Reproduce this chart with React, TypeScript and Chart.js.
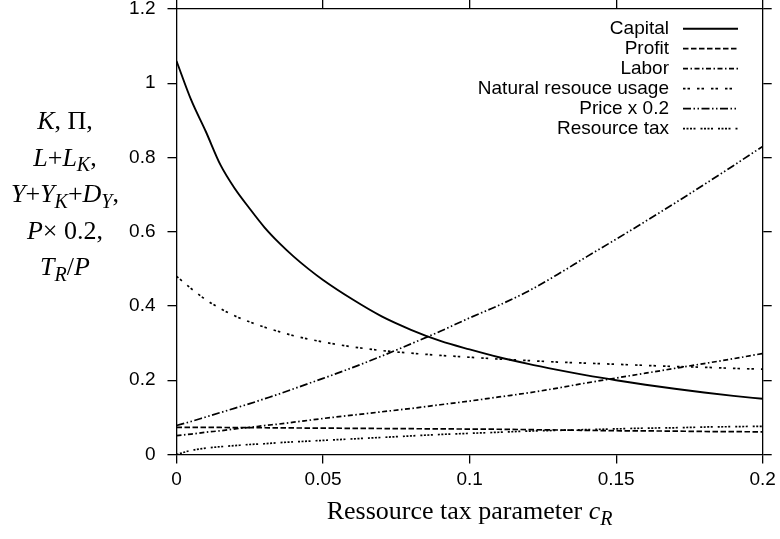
import React, { useEffect, useRef } from "react";
import { Chart, registerables } from "chart.js";

Chart.register(...registerables);

// ---- data ----
const taxParam = [0, 0.005, 0.01, 0.015, 0.02, 0.025, 0.03, 0.035, 0.04, 0.045, 0.05, 0.06, 0.07, 0.08, 0.09, 0.1, 0.11, 0.12, 0.13, 0.14, 0.15, 0.16, 0.17, 0.18, 0.19, 0.2];
const capital = [1.06, 0.955, 0.87, 0.78, 0.715, 0.662, 0.612, 0.57, 0.533, 0.5, 0.47, 0.418, 0.372, 0.336, 0.306, 0.283, 0.262, 0.244, 0.228, 0.213, 0.2, 0.188, 0.177, 0.167, 0.158, 0.15];
const profit = [0.073, 0.073, 0.073, 0.0728, 0.0725, 0.0722, 0.072, 0.0718, 0.0715, 0.0712, 0.071, 0.0705, 0.07, 0.0695, 0.069, 0.0685, 0.068, 0.067, 0.066, 0.065, 0.064, 0.0635, 0.063, 0.062, 0.0615, 0.061];
const labor = [0.051, 0.055, 0.06, 0.064, 0.069, 0.073, 0.078, 0.082, 0.087, 0.092, 0.097, 0.106, 0.115, 0.124, 0.134, 0.144, 0.155, 0.166, 0.179, 0.193, 0.206, 0.219, 0.232, 0.245, 0.258, 0.272];
const naturalResource = [0.48, 0.447, 0.417, 0.393, 0.373, 0.357, 0.343, 0.331, 0.32, 0.311, 0.303, 0.29, 0.28, 0.273, 0.267, 0.262, 0.257, 0.253, 0.249, 0.246, 0.243, 0.24, 0.237, 0.235, 0.232, 0.23];
const priceScaled = [0.078, 0.089, 0.101, 0.113, 0.125, 0.137, 0.15, 0.163, 0.177, 0.191, 0.205, 0.234, 0.265, 0.298, 0.332, 0.368, 0.402, 0.44, 0.485, 0.533, 0.58, 0.628, 0.677, 0.727, 0.778, 0.83];
const resourceTax = [0, 0.011, 0.017, 0.021, 0.024, 0.027, 0.029, 0.032, 0.034, 0.036, 0.038, 0.042, 0.046, 0.05, 0.054, 0.057, 0.06, 0.063, 0.065, 0.067, 0.069, 0.071, 0.072, 0.074, 0.075, 0.076];

const seriesNames = ["Capital", "Profit", "Labor", "Natural resouce usage", "Price x 0.2", "Resource tax"];
const seriesValues = [capital, profit, labor, naturalResource, priceScaled, resourceTax];
const seriesDashes: number[][] = [
  [],
  [5.5, 2.5],
  [5, 2.5, 1.5, 2.5],
  [2.5, 2, 2.5, 7],
  [8, 2.5, 1.5, 2.5, 1.5, 2.5],
  [2, 1.5, 2, 1.5, 2, 1.5, 2, 5],
];

const xTickValues = [0, 0.05, 0.1, 0.15, 0.2];
const xTickLabels = ["0", "0.05", "0.1", "0.15", "0.2"];
const yTickValues = [0, 0.2, 0.4, 0.6, 0.8, 1, 1.2];
const yTickLabels = ["0", "0.2", "0.4", "0.6", "0.8", "1", "1.2"];

type Seg = { t: string; it?: boolean; sub?: boolean };
const xTitle: Seg[] = [{ t: "Ressource tax parameter " }, { t: "c", it: true }, { t: "R", it: true, sub: true }];
const yTitleLines: Seg[][] = [
  [{ t: "K", it: true }, { t: ", Π," }],
  [{ t: "L", it: true }, { t: "+" }, { t: "L", it: true }, { t: "K", it: true, sub: true }, { t: "," }],
  [{ t: "Y", it: true }, { t: "+" }, { t: "Y", it: true }, { t: "K", it: true, sub: true }, { t: "+" }, { t: "D", it: true }, { t: "Y", it: true, sub: true }, { t: "," }],
  [{ t: "P", it: true }, { t: "× 0.2," }],
  [{ t: "T", it: true }, { t: "R", it: true, sub: true }, { t: "/" }, { t: "P", it: true }],
];

const SANS = '"Liberation Sans", Arial, sans-serif';
const SERIF = '"Liberation Serif", "Times New Roman", serif';

function segFont(s: Seg, size: number) {
  const sz = s.sub ? Math.round(size * 0.75) : size;
  return `${s.it ? "italic " : ""}${sz}px ${SERIF}`;
}

function drawRich(ctx: CanvasRenderingContext2D, segs: Seg[], cx: number, cy: number, size: number) {
  let total = 0;
  const widths = segs.map((s) => {
    ctx.font = segFont(s, size);
    const w = ctx.measureText(s.t).width;
    total += w;
    return w;
  });
  let x = cx - total / 2;
  segs.forEach((s, i) => {
    ctx.font = segFont(s, size);
    ctx.fillText(s.t, x, cy + (s.sub ? size * 0.22 : 0));
    x += widths[i];
  });
}

const annotationPlugin = {
  id: "annotations",
  afterDraw(chart: any) {
    const ctx: CanvasRenderingContext2D = chart.ctx;
    const area = chart.chartArea;
    ctx.save();
    ctx.fillStyle = "#000";
    ctx.textBaseline = "alphabetic";
    ctx.textAlign = "left";
    // x title
    drawRich(ctx, xTitle, (area.left + area.right) / 2, 519, 26);
    // y title
    yTitleLines.forEach((line, i) => {
      drawRich(ctx, line, 65, 129 + i * 36.5, 26);
    });
    // legend
    chart.data.datasets.forEach((ds: any, i: number) => {
      const y = 28.7 + i * 20;
      ctx.font = `19px ${SANS}`;
      ctx.textAlign = "right";
      ctx.textBaseline = "middle";
      ctx.fillStyle = "#000";
      ctx.fillText(ds.label, 669, y);
      ctx.beginPath();
      ctx.setLineDash(ds.borderDash || []);
      ctx.lineWidth = ds.borderWidth;
      ctx.strokeStyle = "#000";
      ctx.moveTo(683, y);
      ctx.lineTo(738, y);
      ctx.stroke();
    });
    ctx.restore();
  },
};

const baseGrid = { display: true, drawOnChartArea: false, drawTicks: true, tickLength: 9, color: "#000", lineWidth: 1.3 };
const baseBorder = { display: true, color: "#000", width: 1.3 };

function fixX(h: number) {
  return (s: any) => { s.height = h; s.paddingLeft = 0; s.paddingRight = 0; s.paddingTop = 0; s.paddingBottom = 0; };
}
function fixY(w: number) {
  return (s: any) => { s.width = w; s.paddingLeft = 0; s.paddingRight = 0; s.paddingTop = 0; s.paddingBottom = 0; };
}

export default function App() {
  const ref = useRef<HTMLCanvasElement | null>(null);
  useEffect(() => {
    if (!ref.current) return;
    const datasets = seriesNames.map((name, i) => ({
      label: name,
      data: taxParam.map((x, j) => ({ x, y: seriesValues[i][j] })),
      borderColor: "#000",
      backgroundColor: "#000",
      borderWidth: i === 0 ? 1.9 : 1.7,
      borderDash: seriesDashes[i],
      pointRadius: 0,
      fill: false,
      cubicInterpolationMode: "monotone" as const,
    }));
    const chart = new Chart(ref.current, {
      type: "line",
      data: { datasets },
      plugins: [annotationPlugin],
      options: {
        animation: false,
        responsive: false,
        devicePixelRatio: 1,
        layout: { padding: 0 },
        plugins: { legend: { display: false }, tooltip: { enabled: false } },
        scales: {
          x: {
            type: "linear",
            position: "bottom",
            min: 0,
            max: 0.2,
            afterBuildTicks: (s: any) => { s.ticks = xTickValues.map((v) => ({ value: v })); },
            afterFit: fixX(539 - 454.5),
            ticks: { callback: (_v: any, i: number) => xTickLabels[i], font: { family: SANS, size: 19 }, color: "#000", padding: 5, maxRotation: 0 },
            grid: baseGrid,
            border: baseBorder,
          },
          x2: {
            type: "linear",
            position: "top",
            min: 0,
            max: 0.2,
            afterBuildTicks: (s: any) => { s.ticks = xTickValues.map((v) => ({ value: v })); },
            afterFit: fixX(9),
            ticks: { display: false },
            grid: baseGrid,
            border: baseBorder,
          },
          y: {
            type: "linear",
            position: "left",
            min: 0,
            max: 1.2,
            afterBuildTicks: (s: any) => { s.ticks = yTickValues.map((v) => ({ value: v })); },
            afterFit: fixY(176.5),
            ticks: { callback: (_v: any, i: number) => yTickLabels[i], font: { family: SANS, size: 19 }, color: "#000", padding: 12 },
            grid: baseGrid,
            border: baseBorder,
          },
          y2: {
            type: "linear",
            position: "right",
            min: 0,
            max: 1.2,
            afterBuildTicks: (s: any) => { s.ticks = yTickValues.map((v) => ({ value: v })); },
            afterFit: fixY(780 - 762.7),
            ticks: { display: false },
            grid: baseGrid,
            border: baseBorder,
          },
        },
      } as any,
    });
    return () => chart.destroy();
  }, []);
  return (
    <div style={{ position: "absolute", left: 0, top: 0, width: 780, height: 539, background: "#fff" }}>
      <canvas ref={ref} width={780} height={539} />
    </div>
  );
}
